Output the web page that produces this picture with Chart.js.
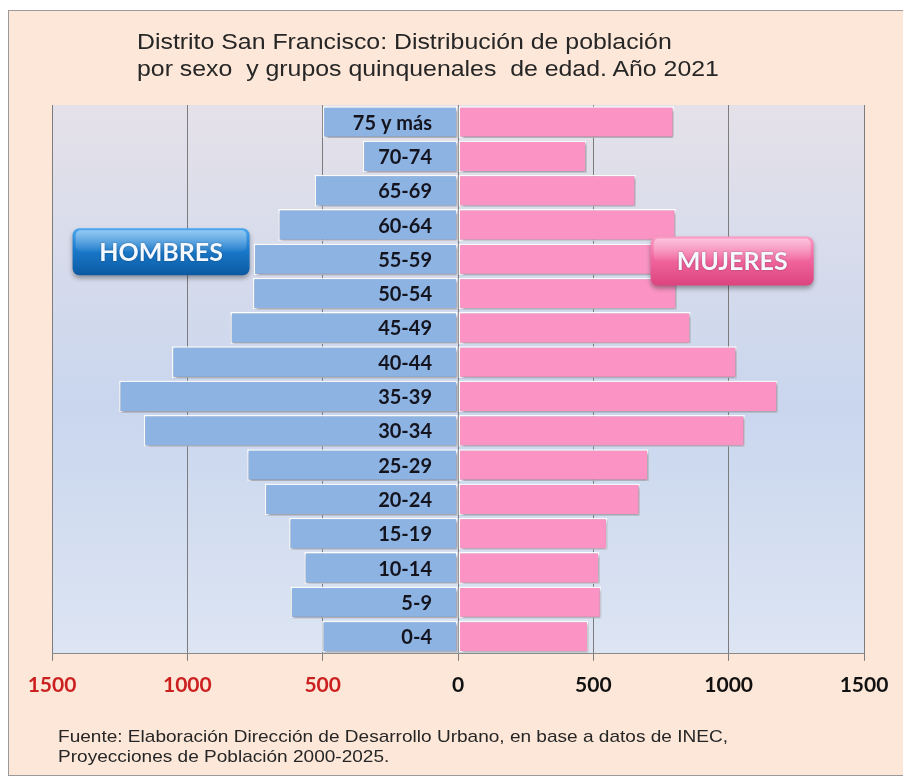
<!DOCTYPE html>
<html lang="es">
<head>
<meta charset="utf-8">
<title>Distrito San Francisco - Pirámide de población 2021</title>
<script src="https://cdn.jsdelivr.net/npm/chart.js@4.4.1/dist/chart.umd.min.js"></script>
<style>
  html, body { margin: 0; padding: 0; background: #ffffff; }
  #page { position: relative; width: 903px; height: 780px; overflow: hidden; }
  #frame {
    position: absolute; left: 8px; top: 10px; width: 900px; height: 764px;
    background: #fce7d8; border: 1px solid #9a9a9a;
  }
  #chartBox { position: absolute; left: 0; top: 0; width: 903px; height: 780px; }
  .title {
    position: absolute; left: 137px; top: 28px; white-space: nowrap;
    font-family: "Liberation Sans", Arial, sans-serif;
    font-size: 22px; line-height: 27px; color: #262626;
    transform: scaleX(1.13); transform-origin: left top;
  }
  .source {
    position: absolute; left: 58px; top: 727px; white-space: nowrap;
    font-family: "Liberation Sans", Arial, sans-serif;
    font-size: 17px; line-height: 20px; color: #262626;
    transform: scaleX(1.12); transform-origin: left top;
  }
</style>
</head>
<body>
<div id="page">
  <div id="frame"></div>
  <div id="chartBox"><canvas id="pyramid"></canvas></div>
  <div class="title">Distrito San Francisco: Distribución de población<br>por sexo&nbsp; y grupos quinquenales&nbsp; de edad. Año 2021</div>
  <div class="source">Fuente: Elaboración Dirección de Desarrollo Urbano, en base a datos de INEC,<br>Proyecciones de Población 2000-2025.</div>
</div>

<script>
// age groups, top to bottom
var ageGroups = ["75 y más", "70-74", "65-69", "60-64", "55-59", "50-54", "45-49", "40-44",
  "35-39", "30-34", "25-29", "20-24", "15-19", "10-14", "5-9", "0-4"];
var hombres = [500, 352, 530, 664, 755, 758, 841, 1057, 1252, 1161, 779, 714, 624, 568, 619, 502];
var mujeres = [798, 475, 657, 805, 790, 808, 860, 1030, 1181, 1060, 704, 672, 552, 523, 529, 482];
var xTickValues = [-1500, -1000, -500, 0, 500, 1000, 1500];

document.addEventListener("DOMContentLoaded", function () {
  var canvas = document.getElementById("pyramid");

  // plot area gradient
  var plotBackground = {
    id: "plotBackground",
    beforeDraw: function (chart) {
      var a = chart.chartArea, ctx = chart.ctx;
      var g = ctx.createLinearGradient(0, a.top, 0, a.bottom);
      g.addColorStop(0, "#e5e1e9");
      g.addColorStop(0.55, "#c9d6ee");
      g.addColorStop(1, "#dde5f3");
      ctx.save();
      ctx.fillStyle = g;
      ctx.fillRect(a.left, a.top, a.right - a.left, a.bottom - a.top);
      ctx.restore();
    }
  };

  // soft shadow under the bars
  var barShadow = {
    id: "barShadow",
    beforeDatasetsDraw: function (chart) {
      var ctx = chart.ctx;
      ctx.save();
      ctx.shadowColor = "rgba(40, 40, 60, 0.5)";
      ctx.shadowBlur = 3;
      ctx.shadowOffsetX = 1.5;
      ctx.shadowOffsetY = 2;
    },
    afterDatasetsDraw: function (chart) {
      chart.ctx.restore();
    }
  };

  // age labels over the male bars
  var ageLabels = {
    id: "ageLabels",
    afterDatasetsDraw: function (chart) {
      var ctx = chart.ctx;
      var xs = chart.scales.x, ys = chart.scales.y;
      var right = xs.getPixelForValue(0) - 26;
      ctx.save();
      ctx.font = "bold 20px Lato, 'Open Sans', sans-serif";
      ctx.fillStyle = "#14141f";
      ctx.textAlign = "right";
      ctx.textBaseline = "middle";
      ageGroups.forEach(function (label, i) {
        ctx.fillText(label, right, ys.getPixelForValue(i) + 1);
      });
      ctx.restore();
    }
  };

  function badge(ctx, cx, cy, w, h, top, mid, bottom, text) {
    var x = cx - w / 2, y = cy - h / 2;
    ctx.save();
    ctx.shadowColor = "rgba(0, 0, 0, 0.35)";
    ctx.shadowBlur = 5;
    ctx.shadowOffsetY = 3;
    var g = ctx.createLinearGradient(0, y, 0, y + h);
    g.addColorStop(0, top);
    g.addColorStop(0.45, mid);
    g.addColorStop(1, bottom);
    ctx.fillStyle = g;
    ctx.beginPath();
    ctx.roundRect(x, y, w, h, 7);
    ctx.fill();
    ctx.restore();
    // glossy top highlight
    ctx.save();
    var hg = ctx.createLinearGradient(0, y, 0, y + h * 0.5);
    hg.addColorStop(0, "rgba(255,255,255,0.45)");
    hg.addColorStop(1, "rgba(255,255,255,0.05)");
    ctx.fillStyle = hg;
    ctx.beginPath();
    ctx.roundRect(x + 3, y + 2, w - 6, h * 0.45, 5);
    ctx.fill();
    ctx.font = "bold 25px Lato, 'Open Sans', sans-serif";
    ctx.textAlign = "center";
    ctx.textBaseline = "middle";
    ctx.shadowColor = "rgba(0,0,0,0.35)";
    ctx.shadowBlur = 2;
    ctx.fillStyle = "#f4f8ff";
    ctx.fillText(text, cx, cy + 1);
    ctx.restore();
  }

  var sexBadges = {
    id: "sexBadges",
    afterDraw: function (chart) {
      var ctx = chart.ctx;
      var xs = chart.scales.x, ys = chart.scales.y;
      var rowH = ys.getPixelForValue(1) - ys.getPixelForValue(0);
      var yMen = ys.getPixelForValue(4) - rowH * 0.22;
      var yWomen = ys.getPixelForValue(4) + rowH * 0.05;
      badge(ctx, xs.getPixelForValue(-1097), yMen, 177, 47, "#4aa6ee", "#1a7acb", "#0b5aa2", "HOMBRES");
      badge(ctx, xs.getPixelForValue(1013), yWomen, 163, 49, "#fb9cc6", "#f2669f", "#dc447e", "MUJERES");
    }
  };

  new Chart(canvas, {
    type: "bar",
    data: {
      labels: ageGroups,
      datasets: [
        {
          label: "Hombres",
          data: hombres.map(function (v) { return -v; }),
          backgroundColor: "#8db3e2",
          borderColor: "rgba(255,255,255,0.95)",
          borderWidth: 1.5,
          borderSkipped: false,
          barPercentage: 0.93,
          categoryPercentage: 1
        },
        {
          label: "Mujeres",
          data: mujeres,
          backgroundColor: "#fb94c4",
          borderColor: "rgba(255,255,255,0.95)",
          borderWidth: 1.5,
          borderSkipped: false,
          barPercentage: 0.93,
          categoryPercentage: 1
        }
      ]
    },
    options: {
      indexAxis: "y",
      responsive: true,
      maintainAspectRatio: false,
      animation: false,
      layout: { padding: { left: 52, right: 39, top: 105, bottom: 70 } },
      plugins: {
        legend: { display: false },
        tooltip: { enabled: false }
      },
      scales: {
        x: {
          stacked: true,
          min: -1500,
          max: 1500,
          afterBuildTicks: function (scale) {
            scale.ticks = xTickValues.map(function (v) { return { value: v }; });
          },
          grid: { color: "#7c7c7c", lineWidth: 1, tickLength: 7, drawTicks: true },
          border: { color: "#8a8a8a", width: 1 },
          ticks: {
            padding: 12,
            font: { family: "Lato", size: 21, weight: "bold" },
            color: function (c) { return c.tick && c.tick.value < 0 ? "#cc1f1f" : "#111111"; },
            callback: function (v) { return Math.abs(v); }
          }
        },
        y: {
          stacked: true,
          display: false
        }
      }
    },
    plugins: [plotBackground, barShadow, ageLabels, sexBadges]
  });
});
</script>
</body>
</html>
